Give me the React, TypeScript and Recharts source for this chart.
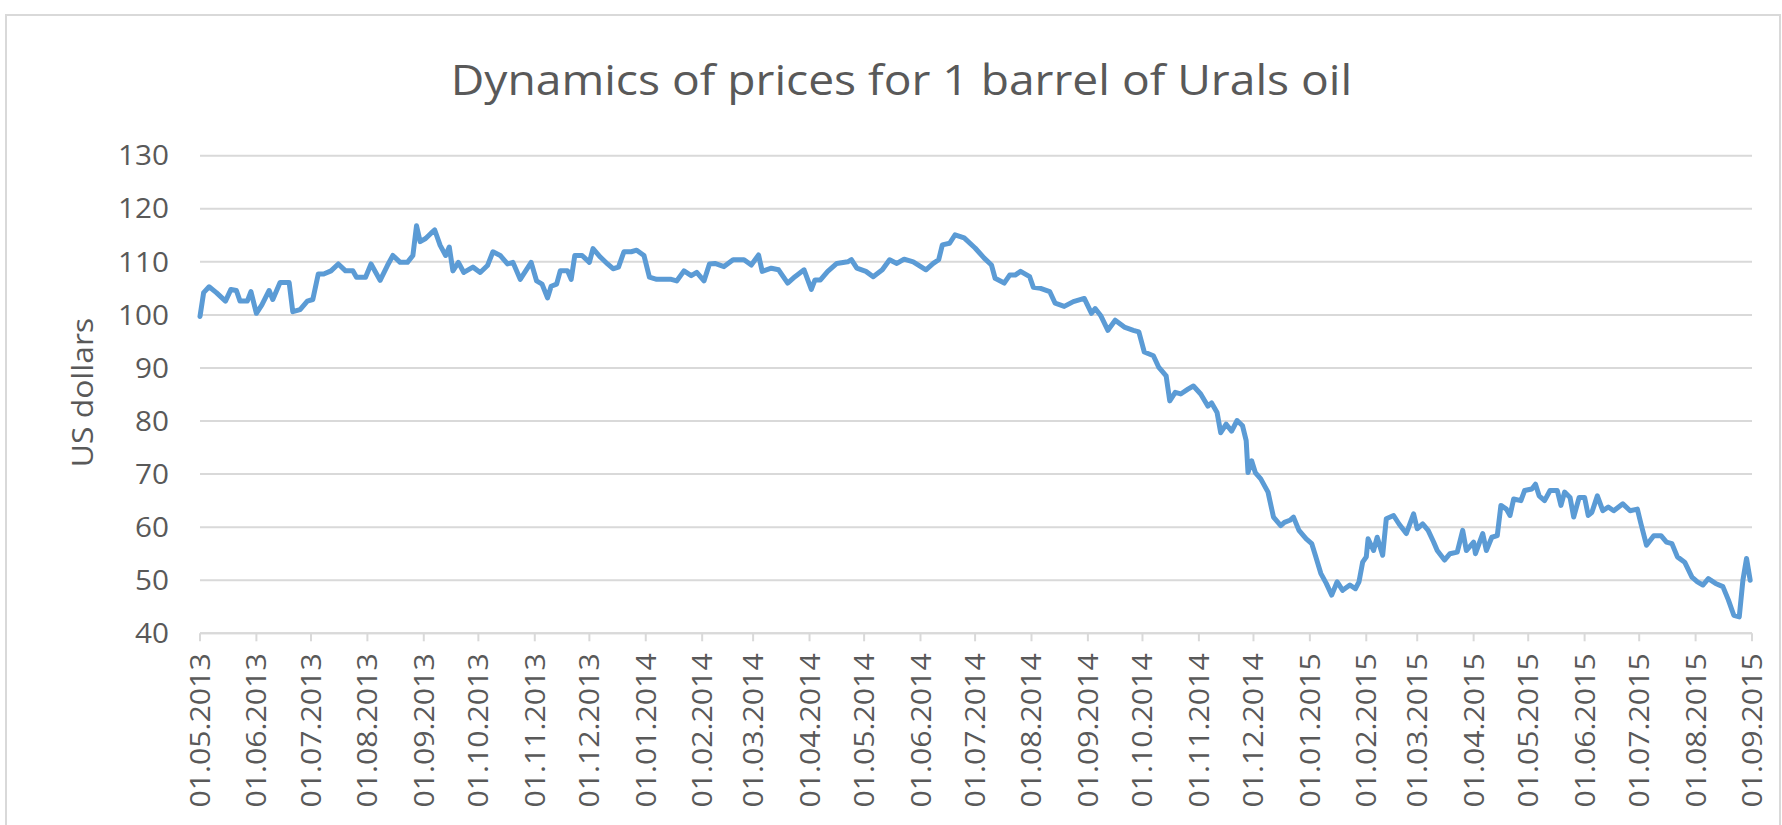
import React from 'react';
import { LineChart, Line, XAxis, YAxis, CartesianGrid } from 'recharts';

const chartTitle = 'Dynamics of prices for 1 barrel of Urals oil';
const yAxisTitle = 'US dollars';
const yTicks = [40, 50, 60, 70, 80, 90, 100, 110, 120, 130];
const monthTicks = [
  '01.05.2013', '01.06.2013', '01.07.2013', '01.08.2013', '01.09.2013', '01.10.2013',
  '01.11.2013', '01.12.2013', '01.01.2014', '01.02.2014', '01.03.2014', '01.04.2014',
  '01.05.2014', '01.06.2014', '01.07.2014', '01.08.2014', '01.09.2014', '01.10.2014',
  '01.11.2014', '01.12.2014', '01.01.2015', '01.02.2015', '01.03.2015', '01.04.2015',
  '01.05.2015', '01.06.2015', '01.07.2015', '01.08.2015', '01.09.2015',
];

const urals2013: [string, number][] = [
  ['2013-05-01', 99.7], ['2013-05-03', 104.2], ['2013-05-06', 105.3], ['2013-05-10', 104.2],
  ['2013-05-15', 102.6], ['2013-05-18', 104.8], ['2013-05-21', 104.6], ['2013-05-23', 102.6],
  ['2013-05-27', 102.6], ['2013-05-29', 104.4], ['2013-06-01', 100.3], ['2013-06-04', 101.9],
  ['2013-06-08', 104.6], ['2013-06-10', 102.9], ['2013-06-14', 106.1], ['2013-06-19', 106.1],
  ['2013-06-21', 100.6], ['2013-06-25', 101.0], ['2013-06-29', 102.6], ['2013-07-02', 102.9],
  ['2013-07-05', 107.7], ['2013-07-08', 107.7], ['2013-07-12', 108.3], ['2013-07-16', 109.6],
  ['2013-07-20', 108.3], ['2013-07-24', 108.3], ['2013-07-26', 107.1], ['2013-07-31', 107.1],
  ['2013-08-03', 109.6], ['2013-08-08', 106.5], ['2013-08-12', 109.3], ['2013-08-15', 111.2],
  ['2013-08-19', 109.9], ['2013-08-23', 109.9], ['2013-08-26', 111.2], ['2013-08-28', 116.8],
  ['2013-08-30', 113.8], ['2013-09-02', 114.4], ['2013-09-05', 115.4], ['2013-09-07', 116.0],
  ['2013-09-10', 113.1], ['2013-09-13', 111.2], ['2013-09-15', 112.8], ['2013-09-17', 108.3],
  ['2013-09-20', 109.9], ['2013-09-23', 108.0], ['2013-09-28', 109.0], ['2013-10-02', 108.0],
  ['2013-10-06', 109.3], ['2013-10-09', 111.9], ['2013-10-13', 111.2], ['2013-10-17', 109.6],
  ['2013-10-20', 109.9], ['2013-10-24', 106.7], ['2013-10-27', 108.3], ['2013-10-30', 109.9],
  ['2013-11-02', 106.4], ['2013-11-05', 105.8], ['2013-11-08', 103.2], ['2013-11-10', 105.4],
  ['2013-11-13', 105.8], ['2013-11-15', 108.3], ['2013-11-19', 108.3], ['2013-11-21', 106.7],
  ['2013-11-23', 111.2], ['2013-11-27', 111.2], ['2013-12-01', 109.9], ['2013-12-03', 112.5],
  ['2013-12-07', 110.9], ['2013-12-11', 109.6], ['2013-12-14', 108.7], ['2013-12-17', 109.0],
  ['2013-12-20', 111.9], ['2013-12-24', 111.9], ['2013-12-27', 112.2], ['2013-12-31', 111.2],
];

const urals2014: [string, number][] = [
  ['2014-01-03', 107.1], ['2014-01-07', 106.7], ['2014-01-11', 106.7], ['2014-01-15', 106.7],
  ['2014-01-18', 106.4], ['2014-01-22', 108.3], ['2014-01-26', 107.4], ['2014-01-29', 108.0],
  ['2014-02-02', 106.4], ['2014-02-05', 109.6], ['2014-02-08', 109.7], ['2014-02-13', 109.1],
  ['2014-02-18', 110.4], ['2014-02-24', 110.4], ['2014-02-28', 109.4], ['2014-03-04', 111.3],
  ['2014-03-06', 108.2], ['2014-03-11', 108.8], ['2014-03-15', 108.5], ['2014-03-20', 106.0],
  ['2014-03-24', 107.2], ['2014-03-29', 108.5], ['2014-04-02', 104.8], ['2014-04-04', 106.6],
  ['2014-04-07', 106.6], ['2014-04-11', 108.2], ['2014-04-16', 109.7], ['2014-04-22', 110.0],
  ['2014-04-24', 110.4], ['2014-04-27', 108.8], ['2014-05-02', 108.2], ['2014-05-06', 107.2],
  ['2014-05-11', 108.5], ['2014-05-15', 110.4], ['2014-05-19', 109.7], ['2014-05-23', 110.5],
  ['2014-05-28', 110.0], ['2014-06-04', 108.5], ['2014-06-08', 109.7], ['2014-06-11', 110.4],
  ['2014-06-13', 113.2], ['2014-06-17', 113.5], ['2014-06-20', 115.1], ['2014-06-25', 114.5],
  ['2014-07-01', 112.6], ['2014-07-06', 110.7], ['2014-07-10', 109.4], ['2014-07-12', 106.9],
  ['2014-07-17', 106.0], ['2014-07-20', 107.5], ['2014-07-23', 107.5], ['2014-07-26', 108.2],
  ['2014-07-31', 107.2], ['2014-08-02', 105.2], ['2014-08-06', 105.0], ['2014-08-11', 104.4],
  ['2014-08-14', 102.2], ['2014-08-19', 101.6], ['2014-08-24', 102.5], ['2014-08-30', 103.1],
  ['2014-09-03', 100.3], ['2014-09-05', 101.2], ['2014-09-08', 99.9], ['2014-09-12', 97.1],
  ['2014-09-16', 99.0], ['2014-09-21', 97.7], ['2014-09-26', 97.1], ['2014-09-29', 96.8],
  ['2014-10-02', 93.0], ['2014-10-07', 92.3], ['2014-10-10', 90.1], ['2014-10-14', 88.5],
  ['2014-10-16', 83.8], ['2014-10-19', 85.4], ['2014-10-22', 85.1], ['2014-10-26', 86.0],
  ['2014-10-29', 86.6], ['2014-11-02', 85.1], ['2014-11-06', 82.8], ['2014-11-08', 83.4],
  ['2014-11-11', 81.6], ['2014-11-13', 77.8], ['2014-11-16', 79.4], ['2014-11-19', 78.1],
  ['2014-11-22', 80.1], ['2014-11-25', 79.1], ['2014-11-27', 76.3], ['2014-11-28', 70.3],
  ['2014-11-30', 72.5], ['2014-12-02', 70.3], ['2014-12-05', 69.1], ['2014-12-09', 66.6],
  ['2014-12-12', 61.9], ['2014-12-16', 60.3], ['2014-12-18', 60.9], ['2014-12-21', 61.3],
  ['2014-12-23', 61.9], ['2014-12-26', 59.4], ['2014-12-30', 57.8],
];

const urals2015: [string, number][] = [
  ['2015-01-02', 56.9], ['2015-01-04', 54.7], ['2015-01-07', 51.3], ['2015-01-10', 49.4],
  ['2015-01-13', 47.2], ['2015-01-16', 49.7], ['2015-01-19', 48.1], ['2015-01-23', 49.1],
  ['2015-01-26', 48.4], ['2015-01-28', 49.7], ['2015-01-30', 53.4], ['2015-02-01', 54.4],
  ['2015-02-02', 57.8], ['2015-02-05', 55.6], ['2015-02-07', 58.1], ['2015-02-10', 54.7],
  ['2015-02-12', 61.6], ['2015-02-16', 62.2], ['2015-02-19', 60.6], ['2015-02-23', 58.8],
  ['2015-02-27', 62.5], ['2015-03-01', 59.7], ['2015-03-04', 60.6], ['2015-03-07', 59.4],
  ['2015-03-10', 57.2], ['2015-03-12', 55.6], ['2015-03-16', 53.8], ['2015-03-19', 55.0],
  ['2015-03-23', 55.3], ['2015-03-26', 59.4], ['2015-03-28', 55.6], ['2015-04-01', 57.2],
  ['2015-04-02', 55.0], ['2015-04-06', 58.8], ['2015-04-08', 55.6], ['2015-04-11', 58.1],
  ['2015-04-14', 58.4], ['2015-04-16', 64.1], ['2015-04-19', 63.4], ['2015-04-21', 62.2],
  ['2015-04-23', 65.3], ['2015-04-27', 65.0], ['2015-04-29', 66.9], ['2015-05-03', 67.2],
  ['2015-05-05', 68.1], ['2015-05-07', 65.9], ['2015-05-10', 65.0], ['2015-05-13', 66.9],
  ['2015-05-17', 66.9], ['2015-05-19', 64.1], ['2015-05-21', 66.6], ['2015-05-24', 65.6],
  ['2015-05-26', 61.9], ['2015-05-29', 65.6], ['2015-06-01', 65.6], ['2015-06-03', 62.2],
  ['2015-06-05', 62.8], ['2015-06-08', 65.9], ['2015-06-11', 63.1], ['2015-06-14', 63.8],
  ['2015-06-17', 63.1], ['2015-06-22', 64.4], ['2015-06-26', 63.1], ['2015-06-30', 63.4],
  ['2015-07-02', 60.6], ['2015-07-05', 56.6], ['2015-07-09', 58.4], ['2015-07-13', 58.4],
  ['2015-07-16', 57.2], ['2015-07-19', 56.9], ['2015-07-22', 54.4], ['2015-07-26', 53.4],
  ['2015-07-30', 50.6], ['2015-08-02', 49.7], ['2015-08-05', 49.1], ['2015-08-08', 50.3],
  ['2015-08-12', 49.4], ['2015-08-16', 48.8], ['2015-08-19', 46.3], ['2015-08-22', 43.4],
  ['2015-08-25', 43.1], ['2015-08-27', 50.0], ['2015-08-29', 54.1], ['2015-08-31', 50.0],
];

const isoToTime = (iso: string) =>
  Date.UTC(Number(iso.slice(0, 4)), Number(iso.slice(5, 7)) - 1, Number(iso.slice(8, 10)));
const labelToTime = (lbl: string) =>
  Date.UTC(Number(lbl.slice(6, 10)), Number(lbl.slice(3, 5)) - 1, Number(lbl.slice(0, 2)));

const data = [...urals2013, ...urals2014, ...urals2015].map(([d, v]) => ({ t: isoToTime(d), price: v }));
const tickTimes = monthTicks.map(labelToTime);
const labelByTime = new Map<number, string>(tickTimes.map((t, i) => [t, monthTicks[i]]));

const W = 1782;
const H = 825;
const PLOT_LEFT = 200;
const PLOT_RIGHT = 1752;
const PLOT_TOP = 155.7;
const PLOT_BOTTOM = 633.3;
const X_AXIS_H = 170;
const FONT = "'Open Sans', 'Noto Sans', sans-serif";
const TEXT = '#595959';
const GRID = '#d9d9d9';
const STRETCH = 1.1;

const YTick = (props: any) => {
  const { x, y, payload } = props;
  return (
    <g transform={`translate(${x},${y}) scale(${STRETCH},1)`}>
      <text x={0} y={0} dy={9.7} textAnchor="end" fontFamily={FONT} fontSize={27} fill={TEXT}>
        {payload.value}
      </text>
    </g>
  );
};

const XTick = (props: any) => {
  const { x, y, payload } = props;
  return (
    <g transform={`translate(${x + 10},${y}) rotate(-90) scale(${STRETCH},1)`}>
      <text x={0} y={0} textAnchor="end" fontFamily={FONT} fontSize={27.5} fill={TEXT}>
        {labelByTime.get(payload.value) ?? ''}
      </text>
    </g>
  );
};

export default function App() {
  return (
    <div style={{ position: 'absolute', left: 0, top: 0, width: W, height: H, overflow: 'hidden', background: '#fff' }}>
      <div
        style={{
          position: 'absolute',
          left: 5,
          top: 14,
          width: 1776,
          height: 840,
          border: `2px solid ${GRID}`,
          boxSizing: 'border-box',
        }}
      />
      <div style={{ position: 'absolute', left: 0, top: 0 }}>
        <LineChart
          width={W}
          height={H}
          data={data}
          margin={{ top: PLOT_TOP, right: W - PLOT_RIGHT, bottom: H - PLOT_BOTTOM - X_AXIS_H, left: 0 }}
        >
          <CartesianGrid horizontal vertical={false} stroke={GRID} strokeWidth={2} />
          <XAxis
            dataKey="t"
            type="number"
            scale="linear"
            domain={[tickTimes[0], tickTimes[tickTimes.length - 1]]}
            ticks={tickTimes}
            interval={0}
            height={X_AXIS_H}
            axisLine={{ stroke: GRID, strokeWidth: 2 }}
            tickLine={{ stroke: GRID, strokeWidth: 2 }}
            tickSize={8}
            tickMargin={12}
            tick={<XTick />}
          />
          <YAxis
            type="number"
            domain={[40, 130]}
            ticks={yTicks}
            interval={0}
            width={PLOT_LEFT}
            axisLine={false}
            tickLine={false}
            tickSize={0}
            tickMargin={31}
            tick={<YTick />}
          />
          <Line
            type="linear"
            dataKey="price"
            stroke="#5b9bd5"
            strokeWidth={5}
            strokeLinejoin="round"
            strokeLinecap="round"
            dot={false}
            activeDot={false}
            isAnimationActive={false}
          />
        </LineChart>
      </div>
      <svg width={W} height={H} style={{ position: 'absolute', left: 0, top: 0, pointerEvents: 'none' }}>
        <g transform={`translate(901.5,95) scale(${STRETCH},1)`}>
          <text x={0} y={0} textAnchor="middle" fontFamily={FONT} fontSize={42} fill={TEXT}>
            {chartTitle}
          </text>
        </g>
        <g transform={`translate(93,${(PLOT_TOP + PLOT_BOTTOM) / 2 - 2}) rotate(-90) scale(1.06,1)`}>
          <text x={0} y={0} textAnchor="middle" fontFamily={FONT} fontSize={30} fill={TEXT}>
            {yAxisTitle}
          </text>
        </g>
      </svg>
    </div>
  );
}
